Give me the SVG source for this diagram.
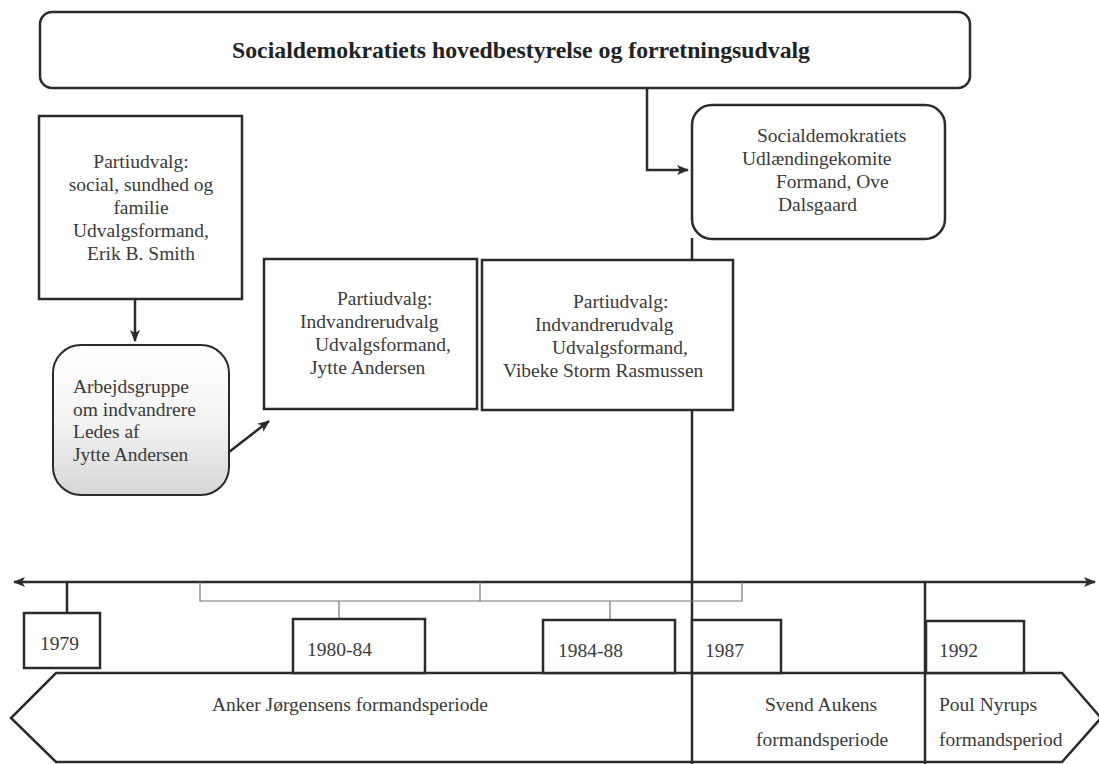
<svg xmlns="http://www.w3.org/2000/svg" width="1099" height="764" viewBox="0 0 1099 764">
<defs>
<style>
.box{fill:#fff;stroke:#2b2b2b;stroke-width:2.5}
.ln{fill:none;stroke:#2b2b2b;stroke-width:2.5}
.thin{fill:none;stroke:#777;stroke-width:1.2}
.t{font-family:"Liberation Serif","Times New Roman",serif;font-size:19.5px;fill:#3a3a3a}
.tc{text-anchor:middle}
.title{font-family:"Liberation Serif","Times New Roman",serif;font-size:24px;font-weight:bold;fill:#222;text-anchor:middle}
</style>
<marker id="ah" viewBox="0 0 12 10" refX="11" refY="5" markerWidth="12" markerHeight="10" markerUnits="userSpaceOnUse" orient="auto-start-reverse">
<path d="M0,0 L12,5 L0,10 L3,5 Z" fill="#2b2b2b"/>
</marker>
<linearGradient id="gg" x1="0" y1="0" x2="0" y2="1">
<stop offset="0" stop-color="#ffffff"/>
<stop offset="0.5" stop-color="#f4f4f4"/>
<stop offset="1" stop-color="#d6d6d6"/>
</linearGradient>
</defs>
<rect width="1099" height="764" fill="#fff"/>

<g id="period-band">
<path class="box" d="M56,673 L1062,673 L1101,718 L1062,762 L56,762 L11,718 Z"/>
<text class="t" x="212" y="711">Anker Jørgensens formandsperiode</text>
<text class="t" x="765" y="711">Svend Aukens</text>
<text class="t" x="756" y="746">formandsperiode</text>
<text class="t" x="939" y="711">Poul Nyrups</text>
<text class="t" x="939" y="746">formandsperiod</text>
</g>

<g id="connectors">
<line class="ln" x1="692" y1="238" x2="692" y2="764"/>
<line class="ln" x1="925" y1="582" x2="925" y2="764"/>
<line class="ln" x1="14" y1="582" x2="1095" y2="582" stroke-width="3" marker-start="url(#ah)" marker-end="url(#ah)"/>
<line class="ln" x1="67" y1="582" x2="67" y2="613"/>
<path class="thin" d="M200,582 V601 H480 V582 M339,601 V619"/>
<path class="thin" d="M480,601 H742 V582 M610,601 V620"/>
<path class="ln" d="M647,88 V170 H688" marker-end="url(#ah)"/>
<line class="ln" x1="135" y1="299" x2="135" y2="341" marker-end="url(#ah)"/>
<line class="ln" x1="229" y1="452" x2="269" y2="421" marker-end="url(#ah)"/>
</g>

<g id="hovedbestyrelse">
<rect class="box" x="40" y="12" width="930" height="76" rx="12"/>
<text class="title" x="521" y="58" textLength="578" lengthAdjust="spacingAndGlyphs">Socialdemokratiets hovedbestyrelse og forretningsudvalg</text>
</g>

<g id="udlaendingekomite">
<rect class="box" x="692" y="105" width="253" height="134" rx="20"/>
<text class="t" x="757" y="142">Socialdemokratiets</text>
<text class="t" x="742" y="165">Udlændingekomite</text>
<text class="t" x="776" y="188">Formand, Ove</text>
<text class="t" x="778" y="211">Dalsgaard</text>
</g>

<g id="partiudvalg-social">
<rect class="box" x="39" y="116" width="203" height="183"/>
<text class="t tc" x="141" y="168">Partiudvalg:</text>
<text class="t tc" x="141" y="191">social, sundhed og</text>
<text class="t tc" x="141" y="214">familie</text>
<text class="t tc" x="141" y="237">Udvalgsformand,</text>
<text class="t tc" x="141" y="260">Erik B. Smith</text>
</g>

<g id="arbejdsgruppe">
<rect x="53" y="345" width="176" height="150" rx="28" fill="url(#gg)" stroke="#2b2b2b" stroke-width="2"/>
<text class="t" x="73" y="393">Arbejdsgruppe</text>
<text class="t" x="73" y="416">om indvandrere</text>
<text class="t" x="73" y="438">Ledes af</text>
<text class="t" x="73" y="461">Jytte Andersen</text>
</g>

<g id="indvandrerudvalg-1">
<rect class="box" x="264" y="259" width="213" height="150"/>
<text class="t" x="337" y="305">Partiudvalg:</text>
<text class="t" x="300" y="328">Indvandrerudvalg</text>
<text class="t" x="315" y="351">Udvalgsformand,</text>
<text class="t" x="310" y="374">Jytte Andersen</text>
</g>

<g id="indvandrerudvalg-2">
<rect class="box" x="482" y="260" width="251" height="150"/>
<text class="t" x="573" y="308">Partiudvalg:</text>
<text class="t" x="535" y="331">Indvandrerudvalg</text>
<text class="t" x="552" y="354">Udvalgsformand,</text>
<text class="t" x="503" y="377">Vibeke Storm Rasmussen</text>
</g>

<g id="y1979">
<rect class="box" x="24" y="613" width="76" height="55"/>
<text class="t" x="40" y="650">1979</text>
</g>
<g id="y1980-84">
<rect class="box" x="293" y="619" width="132" height="54"/>
<text class="t" x="307" y="656">1980-84</text>
</g>
<g id="y1984-88">
<rect class="box" x="543" y="620" width="132" height="53"/>
<text class="t" x="558" y="657">1984-88</text>
</g>
<g id="y1987">
<rect class="box" x="692" y="620" width="89" height="53"/>
<text class="t" x="705" y="657">1987</text>
</g>
<g id="y1992">
<rect class="box" x="926" y="621" width="98" height="52"/>
<text class="t" x="939" y="657">1992</text>
</g>
</svg>
